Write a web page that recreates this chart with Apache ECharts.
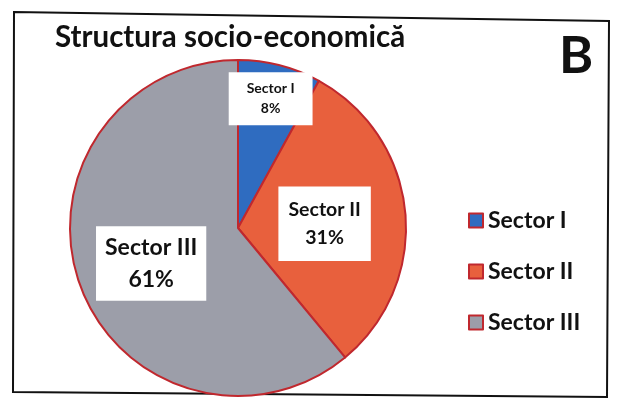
<!DOCTYPE html>
<html><head><meta charset="utf-8">
<script src="https://cdn.jsdelivr.net/npm/echarts@6/dist/echarts.min.js"></script>
<style>html,body{margin:0;padding:0;background:#fff}#c{width:622px;height:411px}</style>
</head><body><div id="c"></div>
<script>
const titleText = 'Structura socio-economică';
const categories = ['Sector I', 'Sector II', 'Sector III'];
const values = [8, 31, 61];
const colors = ['#2f6cc0', '#e8603d', '#9c9ea9'];
const labelFont = [14, 19.5, 23];
const labelShift = [[11, -45], [0, 4], [-5, 6]];

const chart = echarts.init(document.getElementById('c'));
const FF = 'Lato, "Open Sans", sans-serif';
chart.setOption({
  animation: false,
  backgroundColor: '#ffffff',
  title: { text: titleText, left: 50, top: 17,
    textStyle: { fontFamily: FF, fontWeight: 'bold', fontSize: 29.5, color: '#111' } },
  graphic: [
    { type: 'polygon', z: -1, shape: { points: [[14,12],[609,21],[607,397],[13,392]] },
      style: { fill: '#fff', stroke: '#111', lineWidth: 2 } },
    { type: 'text', left: 559, top: 30,
      style: { text: 'B', fontFamily: FF, fontWeight: 'bold', fontSize: 52, fill: '#111' } }
  ],
  legend: {
    orient: 'vertical', left: 463, top: 204, itemGap: 28,
    itemWidth: 14, itemHeight: 14, icon: 'rect',
    itemStyle: { borderColor: '#c0282e', borderWidth: 2 },
    textStyle: { fontFamily: FF, fontWeight: 'bold', fontSize: 23, color: '#111' },
    data: categories
  },
  series: [{
    type: 'pie', center: [238, 228], radius: [0, 168], startAngle: 90,
    clockwise: true,
    itemStyle: { borderColor: '#c0282e', borderWidth: 2 },
    label: { show: true, position: 'inside' },
    labelLine: { show: false },
    labelLayout: function (p) {
      return { dx: labelShift[p.dataIndex][0], dy: labelShift[p.dataIndex][1] };
    },
    data: categories.map((c, i) => ({
      name: c, value: values[i], itemStyle: { color: colors[i] },
      label: {
        formatter: '{b}\n{d}%',
        fontFamily: FF, fontWeight: 'bold', fontSize: labelFont[i], color: '#111',
        lineHeight: labelFont[i] * 1.4,
        backgroundColor: '#fff',
        padding: i === 0 ? [7, 18, 7, 18] : (i === 1 ? [10, 10, 10, 10] : [5, 9, 5, 9])
      }
    }))
  }]
});
</script></body></html>
